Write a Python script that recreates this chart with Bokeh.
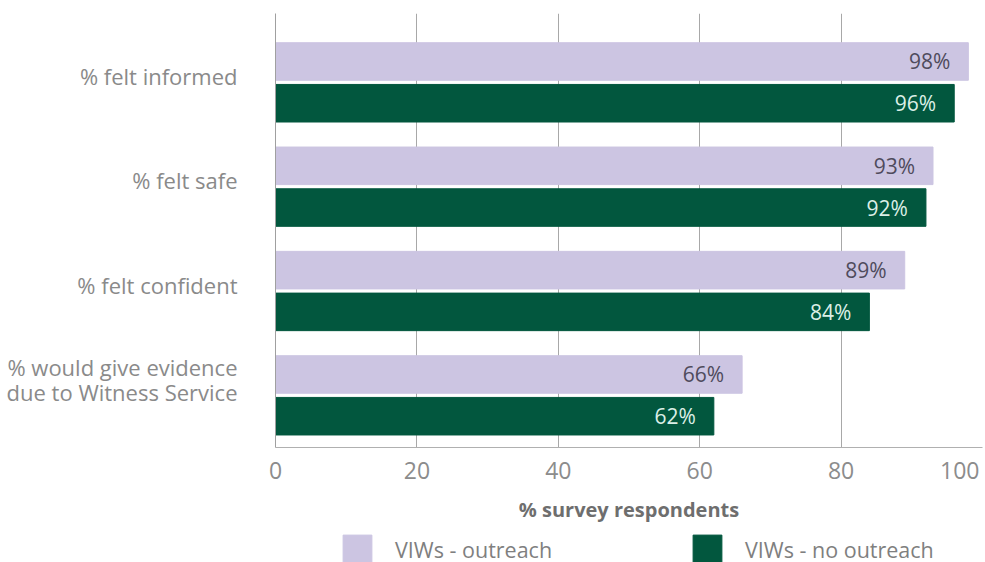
from bokeh.plotting import figure
from bokeh.layouts import column
from bokeh.models import ColumnDataSource, Range1d, FixedTicker, Legend, LegendItem
from bokeh.core.properties import value
from bokeh.transform import dodge
from bokeh.embed import file_html
from bokeh.resources import INLINE

categories = ["% felt informed", "% felt safe", "% felt confident",
              "% would give evidence\ndue to Witness Service"]
outreach = [98, 93, 89, 66]
no_outreach = [96, 92, 84, 62]
series_names = ["VIWs - outreach", "VIWs - no outreach"]
x_ticks = [0, 20, 40, 60, 80, 100]

LAV = "#ccc5e2"
GREEN = "#02573e"
FONT = "Open Sans"

idx = list(range(len(categories)))
src = ColumnDataSource(dict(
    y=idx, cat=categories, a=outreach, b=no_outreach,
    la=[f"{v}%" for v in outreach], lb=[f"{v}%" for v in no_outreach],
))

p = figure(width=985, height=525, output_backend="svg", toolbar_location=None,
           x_range=Range1d(0, 100), y_range=Range1d(3.5, -0.66),
           min_border_left=275, min_border_right=3, min_border_top=13,
           min_border_bottom=0)
p.outline_line_color = None
p.background_fill_color = "white"

r1 = p.hbar(y=dodge("y", -0.2, range=p.y_range), right="a", left=0, height=0.36,
            color=LAV, source=src)
r2 = p.hbar(y=dodge("y", 0.2, range=p.y_range), right="b", left=0, height=0.36,
            color=GREEN, source=src)

p.text(x="a", y=dodge("y", -0.2, range=p.y_range), text="la", source=src,
       text_align="right", text_baseline="middle", x_offset=-18,
       text_font_size="21px", text_color="#4f4b5c", text_font=value(FONT))
p.text(x="b", y=dodge("y", 0.2, range=p.y_range), text="lb", source=src,
       text_align="right", text_baseline="middle", x_offset=-18,
       text_font_size="21px", text_color="#dcefe7", text_font=value(FONT))

# x axis
xa = p.xaxis[0]
xa.ticker = FixedTicker(ticks=x_ticks)
xa.major_label_overrides = {100: "100\u00a0"}
xa.major_tick_line_color = None
xa.minor_tick_line_color = None
xa.axis_line_color = "#b0b0b0"
xa.major_label_text_font = FONT
xa.major_label_text_font_size = "23px"
xa.major_label_text_color = "#8c8c8c"
xa.major_label_standoff = 0
xa.axis_label = "% survey respondents"
xa.axis_label_text_font = FONT
xa.axis_label_text_font_size = "20px"
xa.axis_label_text_font_style = "bold"
xa.axis_label_text_color = "#6e6e6e"
xa.axis_label_standoff = 7

# y axis (labels sit slightly above the pair centre, two-line label a bit more)
tick_pos = [i - 0.06 - 0.09 * c.count("\n") for i, c in zip(idx, categories)]
ya = p.yaxis[0]
ya.ticker = FixedTicker(ticks=tick_pos)
ya.major_label_overrides = {t: c for t, c in zip(tick_pos, categories)}
ya.major_tick_line_color = None
ya.minor_tick_line_color = None
ya.axis_line_color = "#a0a0a0"
ya.major_label_text_font = FONT
ya.major_label_text_font_size = "22px"
ya.major_label_text_color = "#8a8a8a"
ya.major_label_text_line_height = 0.85
ya.major_label_standoff = 32

p.xgrid.grid_line_color = "#a8a8a8"
p.xgrid.grid_line_width = 1
p.ygrid.grid_line_color = None

# legend strip (its own bars lie outside its view; only the legend shows)
q = figure(width=985, height=37, output_backend="svg", toolbar_location=None,
           x_range=Range1d(-2, -1), y_range=Range1d(10, 11),
           min_border=0, min_border_left=0, min_border_right=0,
           min_border_top=0, min_border_bottom=0)
q.axis.visible = False
q.grid.grid_line_color = None
q.outline_line_color = None
g1 = q.hbar(y="y", right="a", left=0, height=0.36, color=LAV, source=src)
g2 = q.hbar(y="y", right="b", left=0, height=0.36, color=GREEN, source=src)

legend = Legend(items=[LegendItem(label=series_names[0], renderers=[g1]),
                       LegendItem(label=series_names[1], renderers=[g2])],
                orientation="horizontal", location=(64, -5),
                glyph_width=36, glyph_height=36, label_standoff=20,
                label_width=200, spacing=94, padding=0, margin=0,
                border_line_color=None, background_fill_alpha=0,
                label_text_font=FONT, label_text_font_size="21.5px",
                label_text_color="#7f7f7f")
q.add_layout(legend, "center")

layout = column(p, q, spacing=0)
open("out.html", "w").write(file_html(layout, INLINE))
